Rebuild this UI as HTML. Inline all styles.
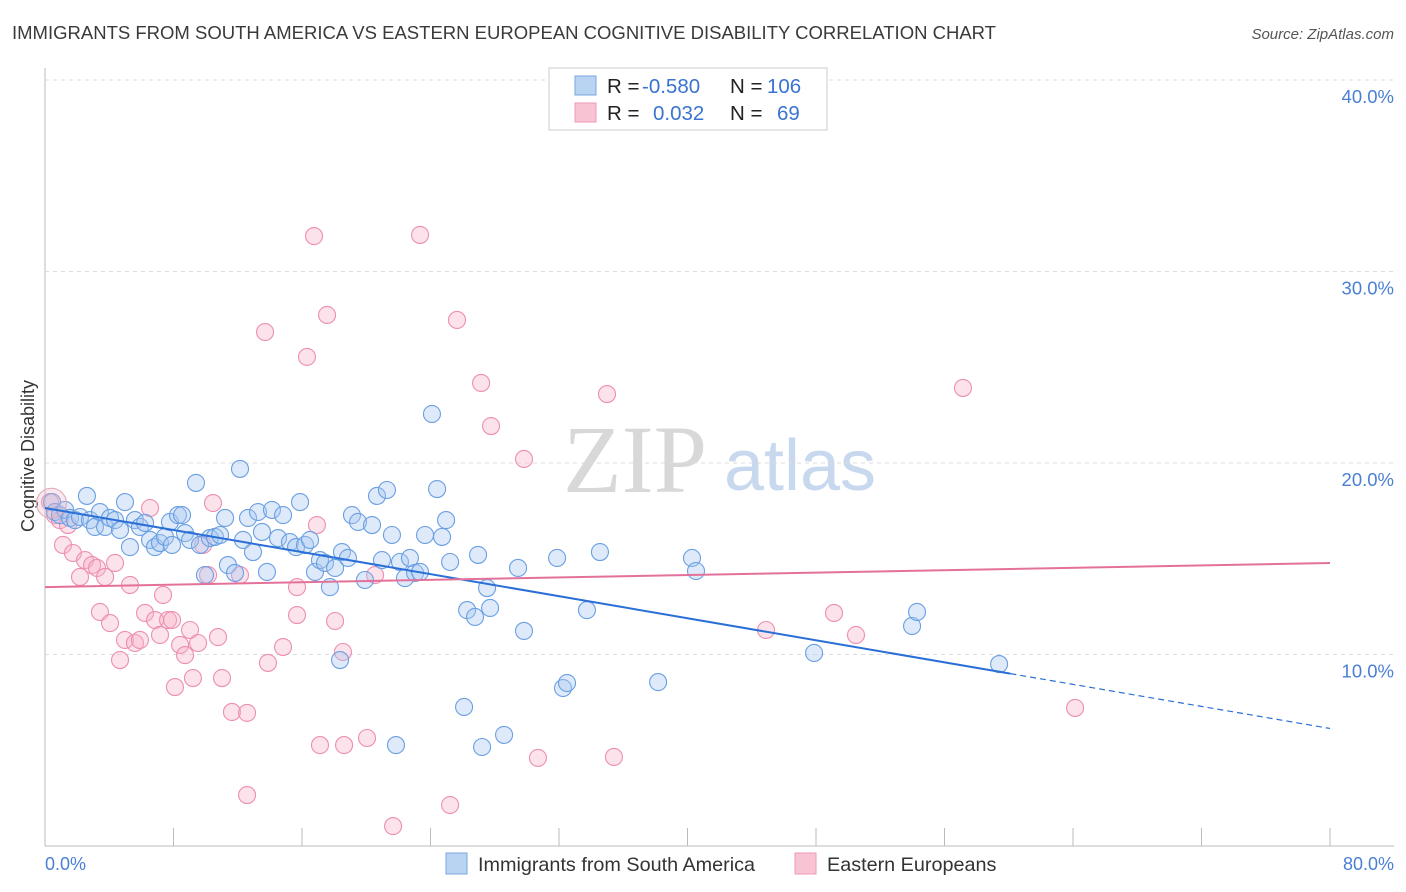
<!DOCTYPE html>
<html><head><meta charset="utf-8">
<style>
body{margin:0;background:#fff;font-family:"Liberation Sans",sans-serif;}
#wrap{position:relative;width:1406px;height:892px;overflow:hidden;}
</style></head>
<body>
<div id="wrap">
<svg id="svg" width="1406" height="892" xmlns="http://www.w3.org/2000/svg">
<text x="12" y="39" font-size="18.5" fill="#3a3a3a" textLength="984" lengthAdjust="spacingAndGlyphs">IMMIGRANTS FROM SOUTH AMERICA VS EASTERN EUROPEAN COGNITIVE DISABILITY CORRELATION CHART</text>
<text x="1394" y="39" font-size="15" fill="#555" font-style="italic" text-anchor="end">Source: ZipAtlas.com</text>
<text x="34" y="456" font-size="18" fill="#333" text-anchor="middle" transform="rotate(-90 34 456)">Cognitive Disability</text>
<text x="635" y="492" font-size="96" fill="#d8d8d8" font-family="Liberation Serif,serif" text-anchor="middle">ZIP</text>
<text x="800" y="490" font-size="72" fill="#c8d8ee" text-anchor="middle">atlas</text>
<g id="grid"></g><g id="marks"></g><g id="lines"></g>
<g>
<rect x="549" y="68" width="278" height="62" fill="#fff" stroke="#ccc"/>
<rect x="575" y="76" width="21" height="19" fill="#b9d3f3" stroke="#7aa7e2"/>
<rect x="575" y="103" width="21" height="19" fill="#f8c4d4" stroke="#ec9ab6"/>
<text font-size="20.5" fill="#222"><tspan x="607" y="93">R = </tspan><tspan x="642" fill="#3a74d0">-0.580</tspan><tspan x="730">N = </tspan><tspan x="767" fill="#3a74d0">106</tspan></text>
<text font-size="20.5" fill="#222"><tspan x="607" y="120">R = </tspan><tspan x="653" fill="#3a74d0">0.032</tspan><tspan x="730">N = </tspan><tspan x="777" fill="#3a74d0">69</tspan></text>
</g>
<g>
<rect x="446" y="853" width="21" height="21" fill="#b9d3f3" stroke="#7aa7e2"/>
<text x="478" y="871" font-size="19.8" fill="#333">Immigrants from South America</text>
<rect x="795" y="853" width="21" height="21" fill="#f8c4d4" stroke="#ec9ab6"/>
<text x="827" y="871" font-size="19.8" fill="#333">Eastern Europeans</text>
</g>
<text x="45" y="870" font-size="18" fill="#4a7fd4">0.0%</text>
<text x="1394" y="870" font-size="18" fill="#4a7fd4" text-anchor="end">80.0%</text>
</svg>
</div>
<script>
const yTicks=[10,20,30,40];
const yTickLabels=["10.0%","20.0%","30.0%","40.0%"];
const xTicks=[0,8,16,24,32,40,48,56,64,72,80];
const blueX=[.44,.62,.93,1.25,1.56,1.87,2.18,2.61,2.80,3.11,3.42,3.74,4.05,4.36,4.67,4.98,5.29,5.60,5.91,6.23,6.54,6.85,7.16,7.47,7.78,7.91,8.28,8.53,8.72,9.03,9.40,9.65,9.96,10.27,10.58,10.90,11.21,11.39,11.83,12.14,12.33,12.64,12.95,13.26,13.51,13.82,14.13,14.51,14.82,15.25,15.63,15.88,16.19,16.50,16.81,17.12,17.43,17.74,18.06,18.37,18.49,18.86,19.11,19.49,19.92,20.36,20.67,20.98,21.29,21.60,21.85,22.10,22.41,22.72,23.04,23.35,23.66,24.09,24.41,24.72,24.97,25.22,26.09,26.28,26.77,26.96,27.21,27.52,27.71,28.58,29.45,29.82,31.88,32.25,32.50,33.74,34.55,38.17,40.28,40.53,47.88,53.98,54.29,59.40];
const blueY=[17.96,17.44,17.28,17.55,17.13,17.02,17.18,18.28,17.02,16.66,17.44,16.66,17.13,17.02,16.50,17.96,15.61,17.02,16.66,16.87,15.98,15.61,15.82,16.14,16.92,15.72,17.28,17.28,16.34,15.98,18.96,15.72,14.15,16.08,16.14,16.24,17.13,14.67,14.26,19.69,15.98,17.13,15.35,17.44,16.40,14.31,17.55,16.08,17.28,15.87,15.61,17.96,15.72,15.98,14.31,14.93,14.78,13.52,14.52,9.71,15.35,15.04,17.28,16.92,13.89,16.76,18.28,14.93,18.59,16.24,5.27,14.83,13.99,15.04,14.26,14.31,16.24,22.56,18.64,16.14,17.02,14.83,7.26,12.32,11.96,15.20,5.17,13.47,12.43,5.80,14.52,11.23,15.04,8.25,8.51,12.32,15.35,8.56,15.04,14.36,10.08,11.49,12.22,9.50];
const pinkX=[.31,.62,.93,1.12,1.43,1.74,2.18,2.49,2.93,3.24,3.42,3.74,4.05,4.36,4.67,4.98,5.29,5.60,5.91,6.23,6.54,6.85,7.16,7.35,7.66,7.91,8.09,8.41,8.72,9.03,9.21,9.53,9.84,10.15,10.46,10.77,11.02,11.64,12.14,12.58,12.58,13.70,13.88,14.82,15.69,15.69,16.31,16.75,16.93,17.12,17.56,18.06,18.55,18.62,20.05,20.55,21.67,23.35,25.22,25.65,27.15,27.77,29.82,30.69,34.99,35.42,44.89,49.12,50.49,57.15,64.13];
const pinkY=[17.96,17.28,17.02,15.72,16.76,15.30,14.05,14.93,14.67,14.52,12.22,14.05,11.64,14.78,9.71,10.76,13.63,10.60,10.76,12.17,17.65,11.80,11.02,13.11,11.80,11.80,8.30,10.50,9.97,11.28,8.77,10.60,15.72,14.15,17.91,10.91,8.77,7.00,14.15,6.95,2.66,26.84,9.56,10.39,12.06,13.52,25.54,31.85,16.76,5.27,27.73,11.75,10.13,5.27,5.64,14.15,1.04,31.91,2.14,27.47,24.18,21.93,20.21,4.60,23.60,4.65,11.28,12.17,11.02,23.92,7.21];
const blueTrend=[17.65,-0.1439];
const pinkTrend=[13.52,0.01575];
const X0=45,X1=1330,Y0=846,PXY=19.15;
function sx(v){return X0+(X1-X0)*v/80;}
function sy(v){return Y0-v*PXY;}
const NS="http://www.w3.org/2000/svg";
function mk(tag,attrs,parent){const e=document.createElementNS(NS,tag);for(const k in attrs)e.setAttribute(k,attrs[k]);parent.appendChild(e);return e;}
const grid=document.getElementById('grid'),marks=document.getElementById('marks'),lines=document.getElementById('lines');
let ax=mk('line',{x1:X0,y1:68,x2:X0,y2:Y0,stroke:'#bbb'},grid);


let bx=mk('line',{x1:X0,y1:Y0,x2:1394,y2:Y0,stroke:'#bbb'},grid);


yTicks.forEach((t,i)=>{
 const g=mk('line',{x1:X0,y1:sy(t),x2:1394,y2:sy(t),stroke:'#dcdcdc','stroke-dasharray':'4,4'},grid);
 
 
 const tx=mk('text',{x:1394,y:sy(t)+23,'font-size':18.5,fill:'#4a7fd4','text-anchor':'end'},grid);
 tx.textContent=yTickLabels[i];
 
 
});
xTicks.forEach(t=>{
 const l=mk('line',{x1:sx(t),y1:Y0,x2:sx(t),y2:Y0-18,stroke:'#bbb'},grid);
 
 
});
function pts(xs,ys,fill,stroke,name){
 xs.forEach((x,i)=>{
  const c=mk('circle',{cx:sx(x),cy:sy(ys[i]),r:8.5,fill:fill,'fill-opacity':0.38,stroke:stroke,'stroke-width':1.1},marks);
  
  
 });
}
pts(pinkX,pinkY,'#f6b3c8','#ec8fb0','pink-point');
pts(blueX,blueY,'#a9c9f2','#6a9fe2','blue-point');
const big=mk('circle',{cx:sx(0.4),cy:sy(17.9),r:15,fill:'#e9b7c6','fill-opacity':0.3,stroke:'#e3a5ba'},marks);


const bSolidEnd=60.1;
let l1=mk('line',{x1:sx(0),y1:sy(blueTrend[0]),x2:sx(bSolidEnd),y2:sy(blueTrend[0]+blueTrend[1]*bSolidEnd),stroke:'#2a6fd6','stroke-width':2},lines);


let l2=mk('line',{x1:sx(bSolidEnd),y1:sy(blueTrend[0]+blueTrend[1]*bSolidEnd),x2:sx(80),y2:sy(blueTrend[0]+blueTrend[1]*80),stroke:'#2a6fd6','stroke-width':1.2,'stroke-dasharray':'6,4'},lines);


let l3=mk('line',{x1:sx(0),y1:sy(pinkTrend[0]),x2:sx(80),y2:sy(pinkTrend[0]+pinkTrend[1]*80),stroke:'#e4719a','stroke-width':2},lines);


</script>
</body></html>
